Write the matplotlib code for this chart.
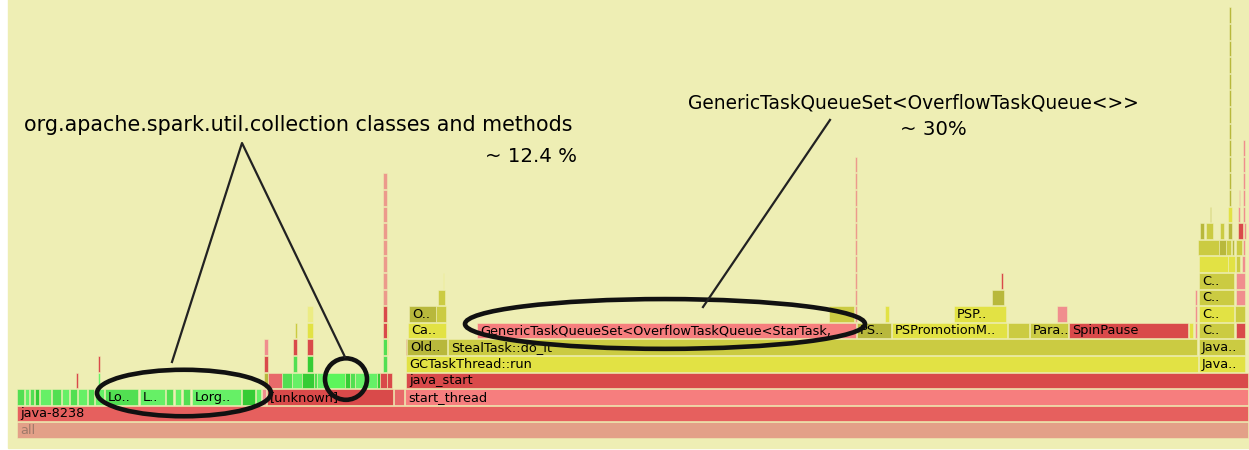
import matplotlib
matplotlib.use("Agg")
import matplotlib.pyplot as plt
from matplotlib.patches import Ellipse

# flame graph frames per stack depth: (start sample, width in samples, name, shade)
row0 = [(0, 1231, 'all', 'all')]
row1 = [(0, 1231, 'java-8238', 'jv')]
row2 = [(0, 7, '', 'g2'), (8, 4, '', 'g1'), (13, 4, '', 'g2'), (18, 4, '', 'g3'),
        (23, 11, '', 'g1'), (35, 9, '', 'g2'), (45, 7, '', 'g1'), (53, 7, '', 'g2'),
        (61, 9, '', 'g1'), (71, 6, '', 'g2'), (78, 9, '', 'g1'),
        (88, 33, 'Lo..', 'g2'), (123, 25, 'L..', 'g1'), (149, 7, '', 'g2'),
        (158, 6, '', 'g1'), (166, 7, '', 'g2'), (175, 49, 'Lorg..', 'g1'),
        (225, 13, '', 'g3'), (239, 5, '', 'g1'), (245, 4, '', 'r4'),
        (250, 126, '[unknown]', 'r2'), (377, 10, '', 'r3'),
        (388, 843, 'start_thread', 'st')]
row3 = [(59, 1.5, '', 'r2'), (81, 2, '', 'g1'), (247, 4, '', 'o1'), (251, 14, '', 'r3'),
        (265, 10, '', 'g2'), (275, 10, '', 'g1'), (285, 12, '', 'g3'), (297, 3, '', 'g2'),
        (300, 8, '', 'g1'), (308, 20, '', 'g4'), (328, 5, '', 'g3'), (333, 5, '', 'g2'),
        (338, 10, '', 'g1'), (348, 12, '', 'g1'), (360, 3, '', 'g3'), (363, 7, '', 'r2'),
        (370, 5, '', 'r2'), (389, 842, 'java_start', 'r2')]
row4 = [(81, 2, '', 'r2'), (247, 4, '', 'r2'), (276, 4, '', 'g2'), (290, 6, '', 'g3'),
        (366, 4, '', 'g2'), (389, 792, 'GCTaskThread::run', 'y1'),
        (1182, 46, 'Java..', 'y1')]
row5 = [(247, 4, '', 'r4'), (276, 4, '', 'r2'), (290, 6, '', 'r2'), (366, 4, '', 'g2'),
        (370, 1.5, '', 'y1'), (389, 1.5, '', 'r2'), (390.5, 39.5, 'Old..', 'o1'),
        (431, 749, 'StealTask::do_it', 'o2'), (1182, 46, 'Java..', 'o2')]
row6 = [(278, 2, '', 'o2'), (290, 6, '', 'y1'), (366, 4, '', 'r2'), (370, 1.5, '', 'y1'),
        (391, 38, 'Ca..', 'y1'),
        (460, 379, 'GenericTaskQueueSet<OverflowTaskQueue<StarTask,_', 'st'),
        (840, 34, 'PS..', 'o1'), (875, 115, 'PSPromotionM..', 'y1'), (991, 21, '', 'o2'),
        (1013, 38, 'Para..', 'o2'), (1052, 119, 'SpinPause', 'r2'), (1172, 4, '', 'y1'),
        (1178, 2, '', 'r4'), (1182, 35, 'C..', 'o2'), (1219, 9, '', 'r2')]
row7 = [(290, 6, '', 'y2'), (366, 4, '', 'r2'), (392, 27, 'O..', 'o1'), (419, 10, '', 'o2'),
        (812, 25, '', 'o2'), (868, 4, '', 'y1'), (937, 52, 'PSP..', 'y1'),
        (1040, 10, '', 'r4'), (1178, 2, '', 'r4'), (1182, 35, 'C..', 'y1'),
        (1218, 10, '', 'o2')]
row8 = [(366, 4, '', 'r4'), (421, 7, '', 'o2'), (975, 12, '', 'o1'), (1178, 2, '', 'r4'),
        (1182, 35, 'C..', 'o2'), (1219, 9, '', 'r4')]
row9 = [(366, 4, '', 'r4'), (426, 1.5, '', 'y2'), (984, 2, '', 'r2'),
        (1182, 35, 'C..', 'o2'), (1219, 9, '', 'r4')]
row10 = [(1182, 29, '', 'y1'), (1211, 7, '', 'y1'), (1219, 4, '', 'o2'), (1225, 3, '', 'r4')]
row11 = [(1181, 21, '', 'o2'), (1202, 7, '', 'o1'), (1209, 5, '', 'o2'), (1215, 2, '', 'o1'),
         (1219, 6, '', 'o2'), (1226, 2, '', 'r4')]
row12 = [(1183, 4, '', 'o1'), (1189, 7, '', 'o2'), (1203, 4, '', 'o2'), (1211, 4, '', 'o1'),
         (1221, 5, '', 'r2'), (1227, 2, '', 'r4')]
row13 = [(1193, 1.5, '', 'o1'), (1211, 4, '', 'y1'), (1221, 2, '', 'r4'), (1226, 2, '', 'r4')]

# narrow deep stacks: (start, width, first depth, last depth, shade)
towers = [(366, 4, 8, 15, 'r5'), (838, 2, 7, 16, 'r5'), (1212, 2, 14, 25, 'o1'),
          (1226, 2, 14, 17, 'r4'), (1222, 1.5, 14, 14, 'r4')]

palette = {'all': '#e3a088', 'jv': '#e6605e', 'st': '#f67e7e',
           'r2': '#d94a4a', 'r3': '#e86a6a', 'r4': '#f08e8e', 'r5': '#ec9a8c',
           'g1': '#66f066', 'g2': '#52df52', 'g3': '#35cc35', 'g4': '#5cf55c',
           'y1': '#e2e244', 'y2': '#ecec84', 'o1': '#b8b83c', 'o2': '#cbcb42'}
bg = '#eeeeb4'

rows = [row0, row1, row2, row3, row4, row5, row6, row7, row8, row9,
        row10, row11, row12, row13]
frames = []
for depth, row in enumerate(rows):
    for start, width, name, shade in row:
        frames.append((depth, start, width, name, shade))
for start, width, lo, hi, shade in towers:
    for depth in range(lo, hi + 1):
        frames.append((depth, start, width, '', shade))

fig = plt.figure(figsize=(12.49, 4.5), dpi=100)
fig.patch.set_facecolor('white')
ax = fig.add_axes([0, 0, 1, 1])
ax.set_facecolor(bg)
ax.set_xlim(-17, 1232)
ax.set_ylim(-0.723, 26.386)
ax.axis('off')
ax.add_patch(plt.Rectangle((-9, -0.6), 1249, 27.5, color=bg, zorder=0))

ax.bar([f[1] for f in frames], 0.94, width=[f[2] for f in frames],
       bottom=[f[0] for f in frames], align='edge',
       color=[palette[f[4]] for f in frames], edgecolor=bg, linewidth=0.4, zorder=2)
for depth, start, width, name, shade in frames:
    if name:
        ax.text(start + 3, depth + 0.45, name, fontsize=9.3, va='center', ha='left',
                color='#a07a6a' if shade == 'all' else 'black', zorder=3)

# annotations
ink = '#111111'
ax.add_patch(Ellipse((167, 2.71), 174, 2.8, fill=False, lw=3.3, ec=ink, zorder=5))
ax.add_patch(Ellipse((329, 3.55), 42, 2.5, fill=False, lw=3.3, ec=ink, zorder=5))
ax.add_patch(Ellipse((648, 6.87), 400, 3.0, fill=False, lw=3.3, ec=ink, zorder=5))
ax.plot([155, 225, 328], [4.58, 17.77, 4.88], color='#222222', lw=1.6, zorder=5)
ax.plot([813, 686], [19.16, 7.89], color='#222222', lw=1.6, zorder=5)
ax.text(7, 18.86, 'org.apache.spark.util.collection classes and methods',
        fontsize=14.9, va='center', ha='left', color='black', zorder=6)
ax.text(560, 16.93, '~ 12.4 %', fontsize=14.2, va='center', ha='right', zorder=6)
ax.text(671, 20.18, 'GenericTaskQueueSet<OverflowTaskQueue<>>',
        fontsize=13.4, va='center', ha='left', zorder=6)
ax.text(883, 18.61, '~ 30%', fontsize=14.2, va='center', ha='left', zorder=6)

fig.savefig('out.png', dpi=100, facecolor='white')
